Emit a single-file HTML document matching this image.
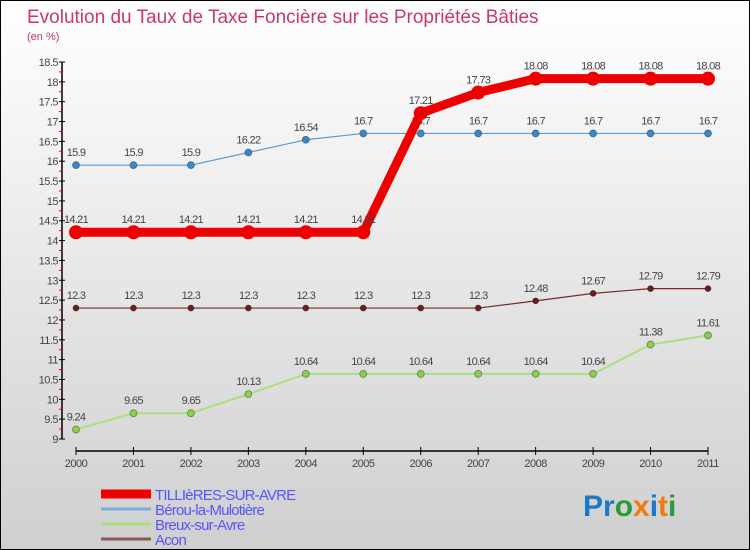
<!DOCTYPE html>
<html><head><meta charset="utf-8"><style>
body{margin:0}
#c{width:750px;height:550px;position:relative;box-sizing:border-box;border:1px solid #000;background:linear-gradient(#fff,#cfcfcf);font-family:"Liberation Sans",sans-serif;overflow:hidden}
</style></head><body>
<div id="c">
<svg id="s" width="750" height="550" style="position:absolute;left:0;top:0">
<text x="26" y="22" font-size="19" fill="#c8386a">Evolution du Taux de Taxe Foncière sur les Propriétés Bâties</text>
<text x="26" y="39" font-size="11" fill="#c8386a">(en %)</text>
<g id="ax"></g>
<g id="ser"></g>
<g id="leg"></g>
<text x="582" y="515" font-size="30" font-weight="bold"><tspan fill="#1a7ac8">Pr</tspan><tspan fill="#2c9a3a">o</tspan><tspan fill="#f07a10">x</tspan><tspan fill="#1a7ac8">i</tspan><tspan fill="#f07a10">t</tspan><tspan fill="#2c9a3a">i</tspan></text>
</svg>
</div>
<script>
const years=[2000,2001,2002,2003,2004,2005,2006,2007,2008,2009,2010,2011];
const yTicks=[9,9.5,10,10.5,11,11.5,12,12.5,13,13.5,14,14.5,15,15.5,16,16.5,17,17.5,18,18.5];
const tillieres=[14.21,14.21,14.21,14.21,14.21,14.21,17.21,17.73,18.08,18.08,18.08,18.08];
const berou=[15.9,15.9,15.9,16.22,16.54,16.7,16.7,16.7,16.7,16.7,16.7,16.7];
const breux=[9.24,9.65,9.65,10.13,10.64,10.64,10.64,10.64,10.64,10.64,11.38,11.61];
const acon=[12.3,12.3,12.3,12.3,12.3,12.3,12.3,12.3,12.48,12.67,12.79,12.79];
const names=["TILLIèRES-SUR-AVRE","Bérou-la-Mulotière","Breux-sur-Avre","Acon"];
const NS="http://www.w3.org/2000/svg";
const X=i=>75+i*(632/11);
const Y=v=>438-(v-9)*(377/9.5);
function mk(tag,attrs,parent,txt){const e=document.createElementNS(NS,tag);for(const k in attrs)e.setAttribute(k,attrs[k]);if(txt!==undefined)e.textContent=txt;parent.appendChild(e);return e;}
const ax=document.getElementById('ax');
let l=mk('line',{x1:61,y1:Y(18.5),x2:61,y2:Y(9),stroke:'#000','stroke-width':1.5},ax);

yTicks.forEach(t=>{const y=Y(t);
 mk('line',{x1:58,y1:y,x2:64,y2:y,stroke:'#000'},ax);
 if(t<18.5)mk('line',{x1:58,y1:Y(t+0.25),x2:61,y2:Y(t+0.25),stroke:'#e00'},ax);
 const tx=mk('text',{x:57,y:y+4,'font-size':11,fill:'#444','text-anchor':'end','letter-spacing':'-0.5'},ax,String(t));
 });
l=mk('line',{x1:X(0),y1:450,x2:X(11),y2:450,stroke:'#000','stroke-width':1.5},ax);

years.forEach((yr,i)=>{mk('line',{x1:X(i),y1:446,x2:X(i),y2:454,stroke:'#000'},ax);
 const tx=mk('text',{x:X(i),y:466,'font-size':11,fill:'#444','text-anchor':'middle','letter-spacing':'-0.5'},ax,String(yr));
 });
const ser=document.getElementById('ser');
function draw(vals,color,w,r,ptFill,name,lbl){
 const g=mk('g',{},ser);
 const p=mk('polyline',{points:vals.map((v,i)=>X(i)+','+Y(v)).join(' '),fill:'none',stroke:color,'stroke-width':w,'stroke-linejoin':'round','stroke-linecap':'round'},g);
 
 vals.forEach((v,i)=>{const c=mk('circle',{cx:X(i),cy:Y(v),r:r,fill:ptFill,stroke:'rgba(0,0,0,0.4)','stroke-width':r>5?0:0.8},g);
  
  const t=mk('text',{x:X(i),y:Y(v)-9,'font-size':11,fill:'#444','text-anchor':'middle','letter-spacing':'-0.7'},g,String(v));
  });
}
draw(acon,'#7a2a2a',1.2,3,'#6b1e1e','acon');
draw(breux,'#a8e080',2,3.5,'#8ad04a','breux');
draw(berou,'#5a9bd0',1.2,3.5,'#3a88c8','berou');
draw(tillieres,'#ee0000',9,7,'#ee0000','tillieres');
const leg=document.getElementById('leg');
const lc=['#ee0000','#7aaed8','#a8e080','#8a5a5a'],lw=[9,3,3,3];
names.forEach((n,i)=>{const y=493+i*15;
 const g=mk('g',{},leg);
 mk('line',{x1:100,y1:y,x2:150,y2:y,stroke:lc[i],'stroke-width':lw[i]},g);
 mk('text',{x:154,y:y+6,'font-size':15,fill:'#5555ff','letter-spacing':'-0.8'},g,n);});
</script>
</body></html>
